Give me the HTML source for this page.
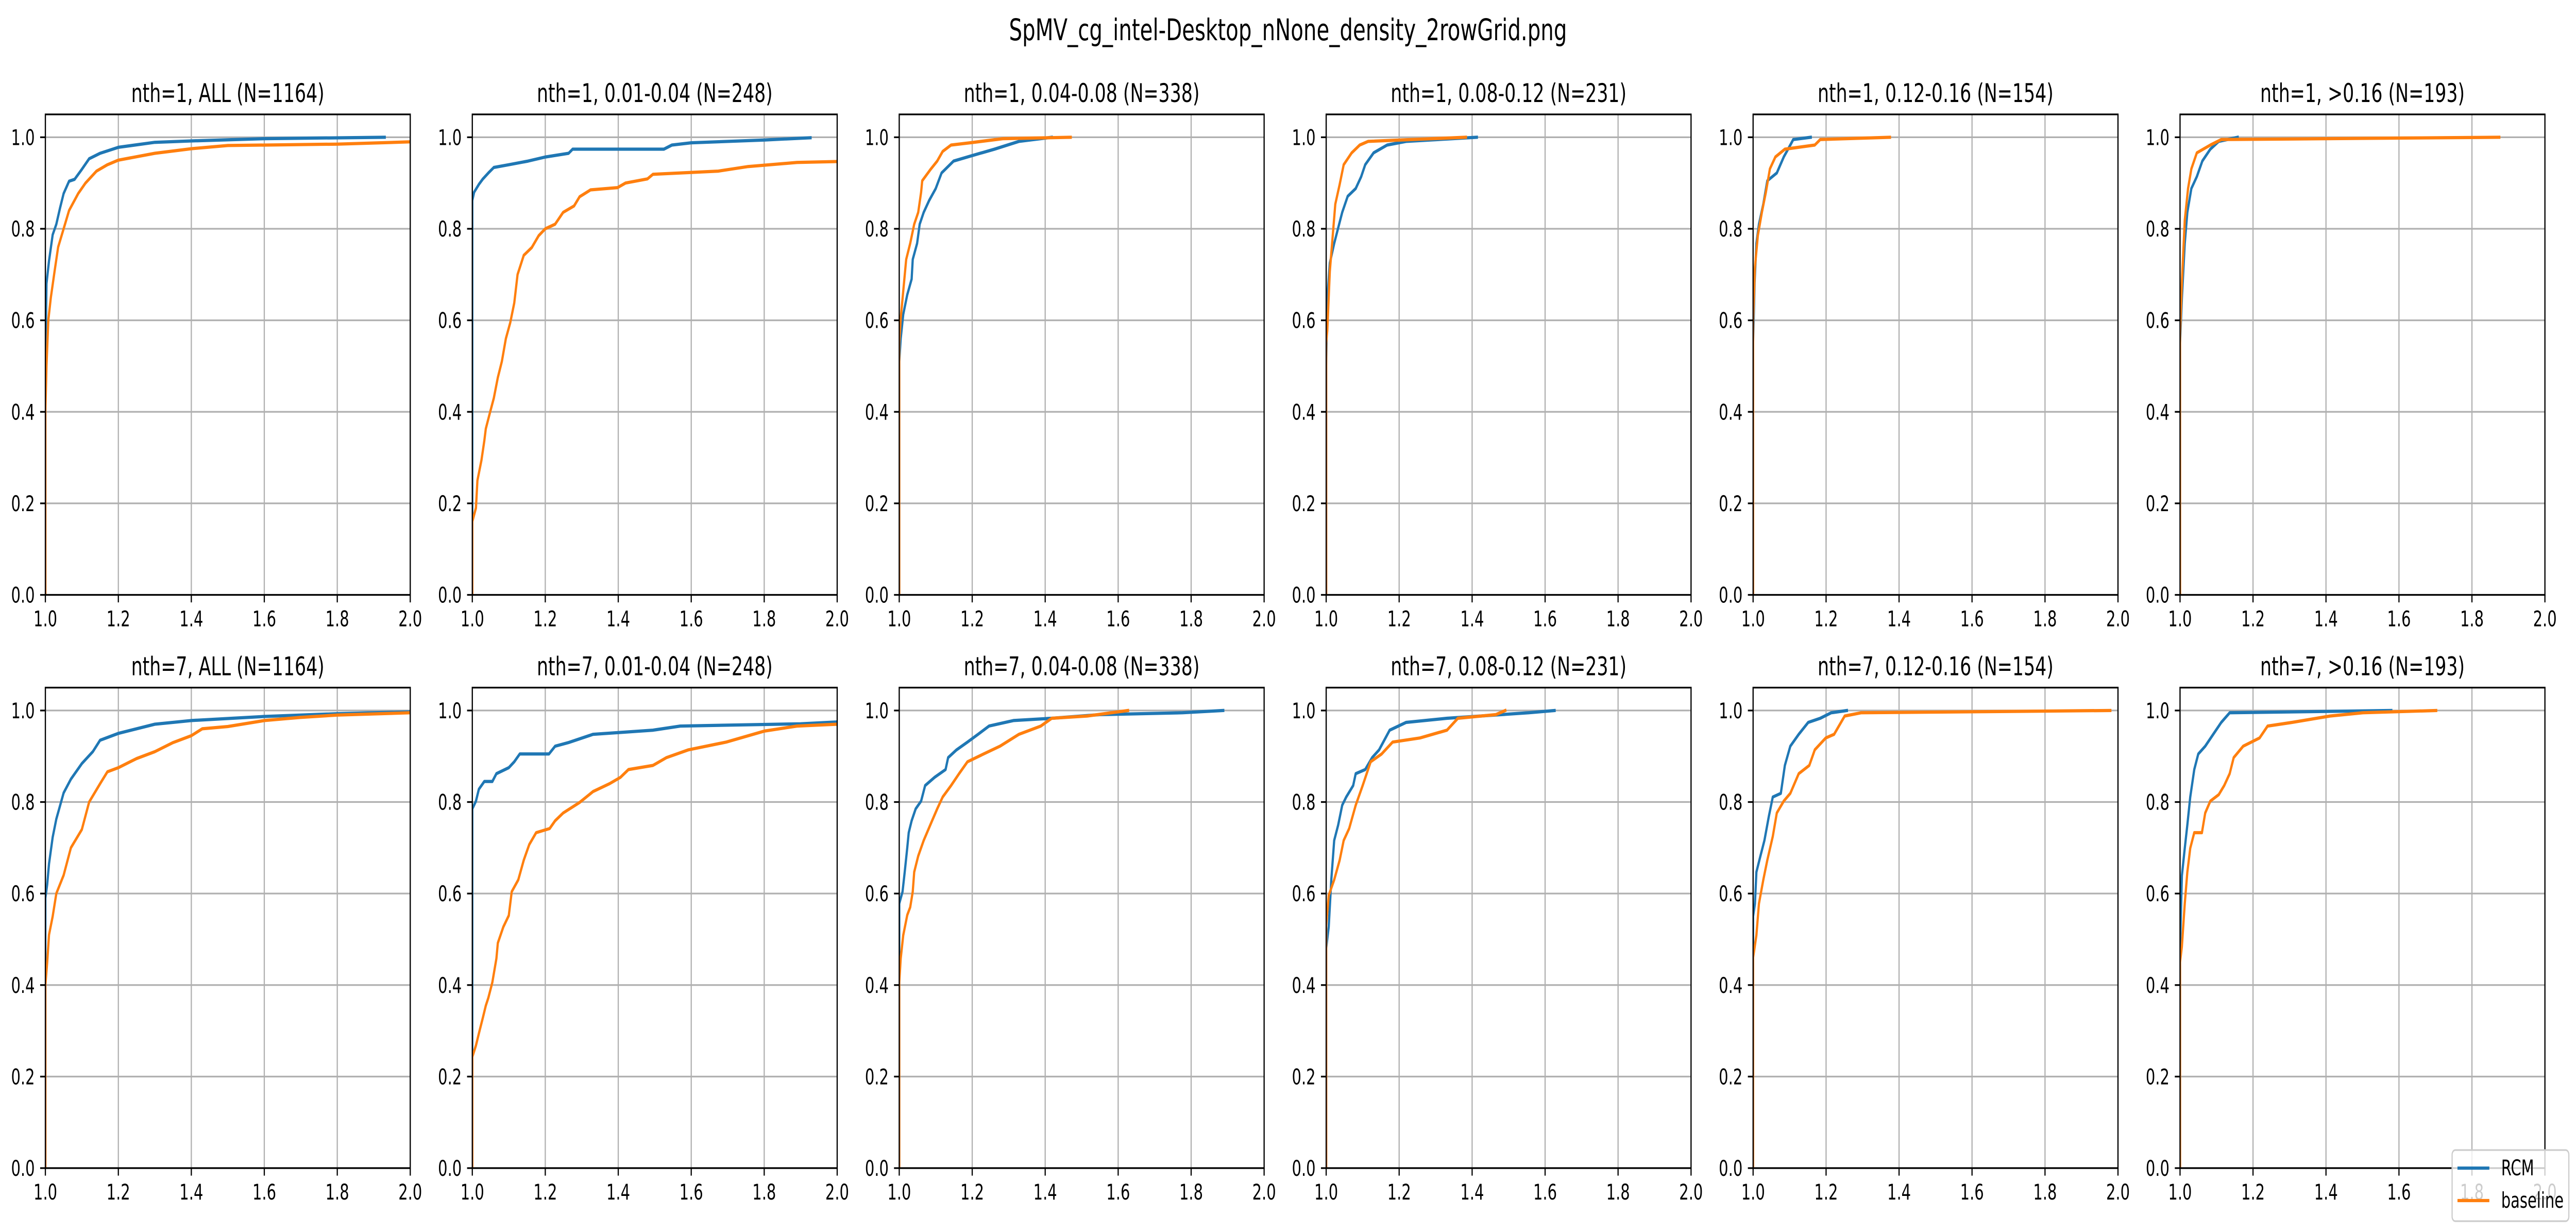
<!DOCTYPE html>
<html><head><meta charset="utf-8">
<style>
html,body{margin:0;padding:0;background:#fff;width:100%;height:100%;overflow:hidden;}
svg{display:block;width:100vw;height:100vh;}
text{font-family:"DejaVu Sans","Liberation Sans",sans-serif;fill:#000;}
</style></head>
<body>
<svg id="fig" xmlns="http://www.w3.org/2000/svg" viewBox="0 0 7194 2391" preserveAspectRatio="none">
<rect x="0" y="0" width="7194" height="2391" fill="#fff"/>
<text x="3597" y="78" font-size="58" text-anchor="middle">SpMV_cg_intel-Desktop_nNone_density_2rowGrid.png</text>
<g id="panels"></g>
<g>
<rect x="6848" y="2232" width="326" height="138" rx="9" fill="#fff" fill-opacity="0.8" stroke="#cccccc" stroke-width="3.3"/>
<line x1="6863" y1="2267" x2="6952" y2="2267" stroke="#1f77b4" stroke-width="6.25"/>
<text x="6985" y="2281" font-size="41.7">RCM</text>
<line x1="6863" y1="2330" x2="6952" y2="2330" stroke="#ff7f0e" stroke-width="6.25"/>
<text x="6985" y="2344" font-size="41.7">baseline</text>
</g>
</svg>
<script>
const titles = ["nth=1, ALL (N=1164)","nth=1, 0.01-0.04 (N=248)","nth=1, 0.04-0.08 (N=338)","nth=1, 0.08-0.12 (N=231)","nth=1, 0.12-0.16 (N=154)","nth=1, >0.16 (N=193)",
"nth=7, ALL (N=1164)","nth=7, 0.01-0.04 (N=248)","nth=7, 0.04-0.08 (N=338)","nth=7, 0.08-0.12 (N=231)","nth=7, 0.12-0.16 (N=154)","nth=7, >0.16 (N=193)"];
const xTicks = [1.0,1.2,1.4,1.6,1.8,2.0];
const xTickLabels = ["1.0","1.2","1.4","1.6","1.8","2.0"];
const yTicks = [0,0.2,0.4,0.6,0.8,1.0];
const yTickLabels = ["0.0","0.2","0.4","0.6","0.8","1.0"];

// Row 1
const r1c1_rcm_x = [1,1,1.003,1.01,1.02,1.03,1.04,1.05,1.065,1.08,1.1,1.12,1.15,1.2,1.3,1.4,1.6,1.93];
const r1c1_rcm_y = [0,0.5,0.68,0.73,0.787,0.81,0.845,0.877,0.904,0.908,0.93,0.953,0.965,0.978,0.989,0.992,0.997,1.0];
const r1c1_base_x = [1,1,1.003,1.008,1.015,1.025,1.035,1.05,1.065,1.09,1.11,1.14,1.17,1.2,1.3,1.4,1.5,1.8,2.0];
const r1c1_base_y = [0,0.4,0.5,0.6,0.65,0.706,0.76,0.8,0.84,0.877,0.9,0.926,0.94,0.95,0.965,0.975,0.982,0.985,0.99];
const r1c2_rcm_x = [1,1,1.005,1.018,1.029,1.044,1.059,1.1,1.153,1.201,1.264,1.275,1.525,1.547,1.6,1.8,1.927];
const r1c2_rcm_y = [0,0.862,0.88,0.897,0.909,0.922,0.934,0.94,0.948,0.957,0.965,0.974,0.974,0.983,0.988,0.994,0.999];
const r1c2_base_x = [1,1,1.01,1.014,1.025,1.033,1.037,1.048,1.059,1.07,1.081,1.092,1.104,1.115,1.124,1.141,1.163,1.182,1.2,1.227,1.249,1.279,1.294,1.324,1.398,1.42,1.48,1.495,1.674,1.756,1.89,2.0];
const r1c2_base_y = [0,0.16,0.19,0.25,0.294,0.337,0.363,0.397,0.43,0.475,0.51,0.56,0.595,0.638,0.7,0.742,0.759,0.785,0.8,0.81,0.836,0.85,0.87,0.885,0.89,0.9,0.909,0.919,0.926,0.936,0.945,0.947];
const r1c3_rcm_x = [1,1,1.004,1.011,1.022,1.034,1.037,1.049,1.056,1.067,1.082,1.1,1.116,1.149,1.2,1.261,1.328,1.418];
const r1c3_rcm_y = [0,0.51,0.56,0.613,0.656,0.69,0.733,0.768,0.81,0.836,0.862,0.888,0.922,0.948,0.96,0.974,0.991,1.0];
const r1c3_base_x = [1,1,1.004,1.011,1.019,1.03,1.041,1.052,1.06,1.063,1.086,1.104,1.119,1.142,1.194,1.284,1.47];
const r1c3_base_y = [0,0.55,0.604,0.664,0.733,0.768,0.81,0.836,0.88,0.905,0.93,0.948,0.969,0.983,0.988,0.997,1.0];
const r1c4_rcm_x = [1,1,1.003,1.01,1.022,1.033,1.044,1.059,1.081,1.096,1.107,1.13,1.167,1.219,1.413];
const r1c4_rcm_y = [0,0.5,0.647,0.725,0.768,0.802,0.836,0.871,0.888,0.914,0.94,0.966,0.983,0.991,1.0];
const r1c4_base_x = [1,1,1.003,1.01,1.018,1.025,1.037,1.048,1.07,1.092,1.115,1.383];
const r1c4_base_y = [0,0.55,0.578,0.707,0.785,0.854,0.897,0.94,0.966,0.983,0.991,1.0];
const r1c5_rcm_x = [1,1,1.004,1.009,1.016,1.028,1.039,1.065,1.084,1.102,1.11,1.158];
const r1c5_rcm_y = [0,0.55,0.682,0.768,0.81,0.854,0.905,0.922,0.957,0.983,0.995,1.0];
const r1c5_base_x = [1,1,1.005,1.013,1.024,1.035,1.046,1.061,1.087,1.169,1.184,1.375];
const r1c5_base_y = [0,0.6,0.716,0.785,0.836,0.88,0.931,0.957,0.974,0.983,0.995,1.0];
const r1c6_rcm_x = [1,1,1.005,1.013,1.02,1.031,1.046,1.061,1.083,1.106,1.158];
const r1c6_rcm_y = [0,0.55,0.647,0.768,0.836,0.888,0.914,0.948,0.974,0.991,1.0];
const r1c6_base_x = [1,1,1.005,1.013,1.022,1.031,1.046,1.083,1.113,1.875];
const r1c6_base_y = [0,0.57,0.682,0.819,0.888,0.931,0.966,0.983,0.995,1.0];

// Row 2
const r2c1_rcm_x = [1,1,1.005,1.01,1.02,1.03,1.05,1.07,1.1,1.13,1.15,1.2,1.3,1.4,1.6,1.8,2.0];
const r2c1_rcm_y = [0,0.59,0.62,0.665,0.723,0.763,0.82,0.85,0.884,0.91,0.935,0.95,0.97,0.978,0.987,0.993,0.997];
const r2c1_base_x = [1,1,1.005,1.01,1.02,1.03,1.05,1.07,1.1,1.12,1.15,1.17,1.2,1.25,1.3,1.35,1.4,1.43,1.5,1.6,1.7,1.8,2.0];
const r2c1_base_y = [0,0.4,0.45,0.51,0.55,0.6,0.64,0.7,0.74,0.8,0.84,0.866,0.875,0.895,0.91,0.93,0.945,0.96,0.965,0.978,0.985,0.99,0.995];
const r2c2_rcm_x = [1,1,1.01,1.018,1.033,1.055,1.066,1.1,1.115,1.13,1.21,1.227,1.264,1.331,1.495,1.57,1.9,2.0];
const r2c2_rcm_y = [0,0.785,0.802,0.828,0.845,0.845,0.862,0.875,0.888,0.905,0.905,0.922,0.93,0.948,0.957,0.966,0.971,0.975];
const r2c2_base_x = [1,1,1.01,1.018,1.029,1.037,1.044,1.055,1.066,1.07,1.085,1.1,1.108,1.126,1.141,1.156,1.175,1.212,1.227,1.249,1.294,1.331,1.376,1.406,1.428,1.495,1.532,1.592,1.696,1.8,1.89,2.0];
const r2c2_base_y = [0,0.243,0.268,0.294,0.329,0.355,0.372,0.406,0.458,0.492,0.527,0.552,0.604,0.63,0.673,0.707,0.733,0.742,0.759,0.776,0.799,0.823,0.84,0.854,0.871,0.88,0.897,0.914,0.931,0.955,0.966,0.97];
const r2c3_rcm_x = [1,1,1.009,1.015,1.022,1.026,1.034,1.045,1.06,1.071,1.097,1.127,1.134,1.157,1.187,1.216,1.246,1.313,1.418,1.55,1.776,1.888];
const r2c3_rcm_y = [0,0.578,0.604,0.647,0.7,0.733,0.759,0.785,0.802,0.836,0.854,0.871,0.897,0.914,0.931,0.948,0.966,0.978,0.983,0.991,0.995,1.0];
const r2c3_base_x = [1,1,1.004,1.011,1.022,1.03,1.037,1.041,1.052,1.067,1.09,1.104,1.119,1.142,1.164,1.187,1.231,1.276,1.328,1.388,1.418,1.515,1.627];
const r2c3_base_y = [0,0.406,0.458,0.509,0.553,0.57,0.604,0.647,0.682,0.716,0.759,0.785,0.811,0.836,0.862,0.888,0.905,0.922,0.948,0.966,0.983,0.988,1.0];
const r2c4_rcm_x = [1,1,1.007,1.014,1.022,1.033,1.044,1.055,1.074,1.081,1.107,1.126,1.145,1.174,1.219,1.331,1.555,1.626];
const r2c4_rcm_y = [0,0.48,0.527,0.63,0.716,0.75,0.793,0.811,0.836,0.862,0.871,0.897,0.914,0.957,0.974,0.983,0.995,1.0];
const r2c4_base_x = [1,1,1.007,1.022,1.037,1.048,1.063,1.081,1.1,1.122,1.152,1.182,1.257,1.331,1.361,1.465,1.491];
const r2c4_base_y = [0,0.53,0.596,0.63,0.673,0.716,0.742,0.793,0.836,0.888,0.905,0.931,0.94,0.957,0.983,0.991,1.0];
const r2c5_rcm_x = [1,1,1.005,1.009,1.02,1.031,1.043,1.054,1.076,1.087,1.102,1.125,1.151,1.184,1.214,1.257];
const r2c5_rcm_y = [0,0.55,0.578,0.647,0.682,0.716,0.768,0.811,0.819,0.88,0.922,0.948,0.974,0.983,0.995,1.0];
const r2c5_base_x = [1,1,1.009,1.016,1.028,1.039,1.054,1.065,1.084,1.102,1.125,1.154,1.169,1.199,1.222,1.251,1.296,1.979];
const r2c5_base_y = [0,0.46,0.509,0.578,0.63,0.673,0.725,0.776,0.802,0.819,0.862,0.88,0.914,0.94,0.948,0.988,0.995,1.0];
const r2c6_rcm_x = [1,1,1.005,1.013,1.02,1.028,1.039,1.05,1.069,1.091,1.113,1.136,1.579];
const r2c6_rcm_y = [0,0.48,0.639,0.699,0.75,0.811,0.871,0.905,0.922,0.948,0.974,0.995,1.0];
const r2c6_base_x = [1,1,1.005,1.013,1.02,1.028,1.039,1.06,1.069,1.083,1.106,1.121,1.136,1.147,1.173,1.218,1.24,1.307,1.411,1.501,1.702];
const r2c6_base_y = [0,0.45,0.484,0.578,0.647,0.699,0.733,0.733,0.776,0.802,0.816,0.836,0.862,0.897,0.922,0.94,0.966,0.974,0.988,0.995,1.0];

const rcmX = [r1c1_rcm_x,r1c2_rcm_x,r1c3_rcm_x,r1c4_rcm_x,r1c5_rcm_x,r1c6_rcm_x,r2c1_rcm_x,r2c2_rcm_x,r2c3_rcm_x,r2c4_rcm_x,r2c5_rcm_x,r2c6_rcm_x];
const rcmY = [r1c1_rcm_y,r1c2_rcm_y,r1c3_rcm_y,r1c4_rcm_y,r1c5_rcm_y,r1c6_rcm_y,r2c1_rcm_y,r2c2_rcm_y,r2c3_rcm_y,r2c4_rcm_y,r2c5_rcm_y,r2c6_rcm_y];
const baseX = [r1c1_base_x,r1c2_base_x,r1c3_base_x,r1c4_base_x,r1c5_base_x,r1c6_base_x,r2c1_base_x,r2c2_base_x,r2c3_base_x,r2c4_base_x,r2c5_base_x,r2c6_base_x];
const baseY = [r1c1_base_y,r1c2_base_y,r1c3_base_y,r1c4_base_y,r1c5_base_y,r1c6_base_y,r2c1_base_y,r2c2_base_y,r2c3_base_y,r2c4_base_y,r2c5_base_y,r2c6_base_y];

const NS = "http://www.w3.org/2000/svg";
const panelsG = document.getElementById('panels');
const AX_W = 1019, AX_H = 932.5;
const colLeft = c => 126.7 + c * 1192.3;
const rowTop = r => r === 0 ? 222 : 1334.5;
function mk(tag, attrs){ const e = document.createElementNS(NS, tag); for (const k in attrs) e.setAttribute(k, attrs[k]); return e; }

for (let p = 0; p < 12; p++) {
  const r = Math.floor(p / 6), c = p % 6;
  const L = colLeft(c), T = rowTop(r), B = T + AX_H, R = L + AX_W;
  const sx = v => L + (v - 1.0) / 1.0 * AX_W;
  const sy = v => B - v / 1.05 * AX_H;
  const g = mk('g', {});
  
  
  panelsG.appendChild(g);
  const clipId = 'clip' + p;
  const cp = mk('clipPath', {id: clipId});
  cp.appendChild(mk('rect', {x: L, y: T, width: AX_W, height: AX_H}));
  g.appendChild(cp);
  xTicks.forEach((t, i) => {
    const gl = mk('line', {x1: sx(t), y1: T, x2: sx(t), y2: B, stroke: '#b0b0b0', 'stroke-width': 3.3});
    
    
    g.appendChild(gl);
  });
  yTicks.forEach((t, i) => {
    const gl = mk('line', {x1: L, y1: sy(t), x2: R, y2: sy(t), stroke: '#b0b0b0', 'stroke-width': 3.3});
    
    
    g.appendChild(gl);
  });
  const series = [[rcmX[p], rcmY[p], '#1f77b4', 'rcm-line'], [baseX[p], baseY[p], '#ff7f0e', 'baseline-line']];
  series.forEach(s => {
    const pts = s[0].map((xv, i) => sx(xv).toFixed(1) + ',' + sy(s[1][i]).toFixed(1)).join(' ');
    const pl = mk('polyline', {points: pts, fill: 'none', stroke: s[2], 'stroke-width': 6.25, 'stroke-linejoin': 'round', 'stroke-linecap': 'square', 'clip-path': 'url(#' + clipId + ')'});
    
    
    g.appendChild(pl);
  });
  const fr = mk('rect', {x: L, y: T, width: AX_W, height: AX_H, fill: 'none', stroke: '#000', 'stroke-width': 3.3});
  
  
  g.appendChild(fr);
  xTicks.forEach((t, i) => {
    const tk = mk('line', {x1: sx(t), y1: B, x2: sx(t), y2: B + 14.6, stroke: '#000', 'stroke-width': 3.3});
    
    
    g.appendChild(tk);
    const tl = mk('text', {x: sx(t), y: B + 61, 'font-size': 41.7, 'text-anchor': 'middle'});
    
    
    tl.textContent = xTickLabels[i];
    g.appendChild(tl);
  });
  yTicks.forEach((t, i) => {
    const tk = mk('line', {x1: L - 14.6, y1: sy(t), x2: L, y2: sy(t), stroke: '#000', 'stroke-width': 3.3});
    
    
    g.appendChild(tk);
    const tl = mk('text', {x: L - 29.5, y: sy(t) + 15, 'font-size': 41.7, 'text-anchor': 'end'});
    
    
    tl.textContent = yTickLabels[i];
    g.appendChild(tl);
  });
  const ti = mk('text', {x: L + AX_W / 2, y: T - 24, 'font-size': 50, 'text-anchor': 'middle'});
  
  
  ti.textContent = titles[p];
  g.appendChild(ti);
}
</script>
</body></html>
